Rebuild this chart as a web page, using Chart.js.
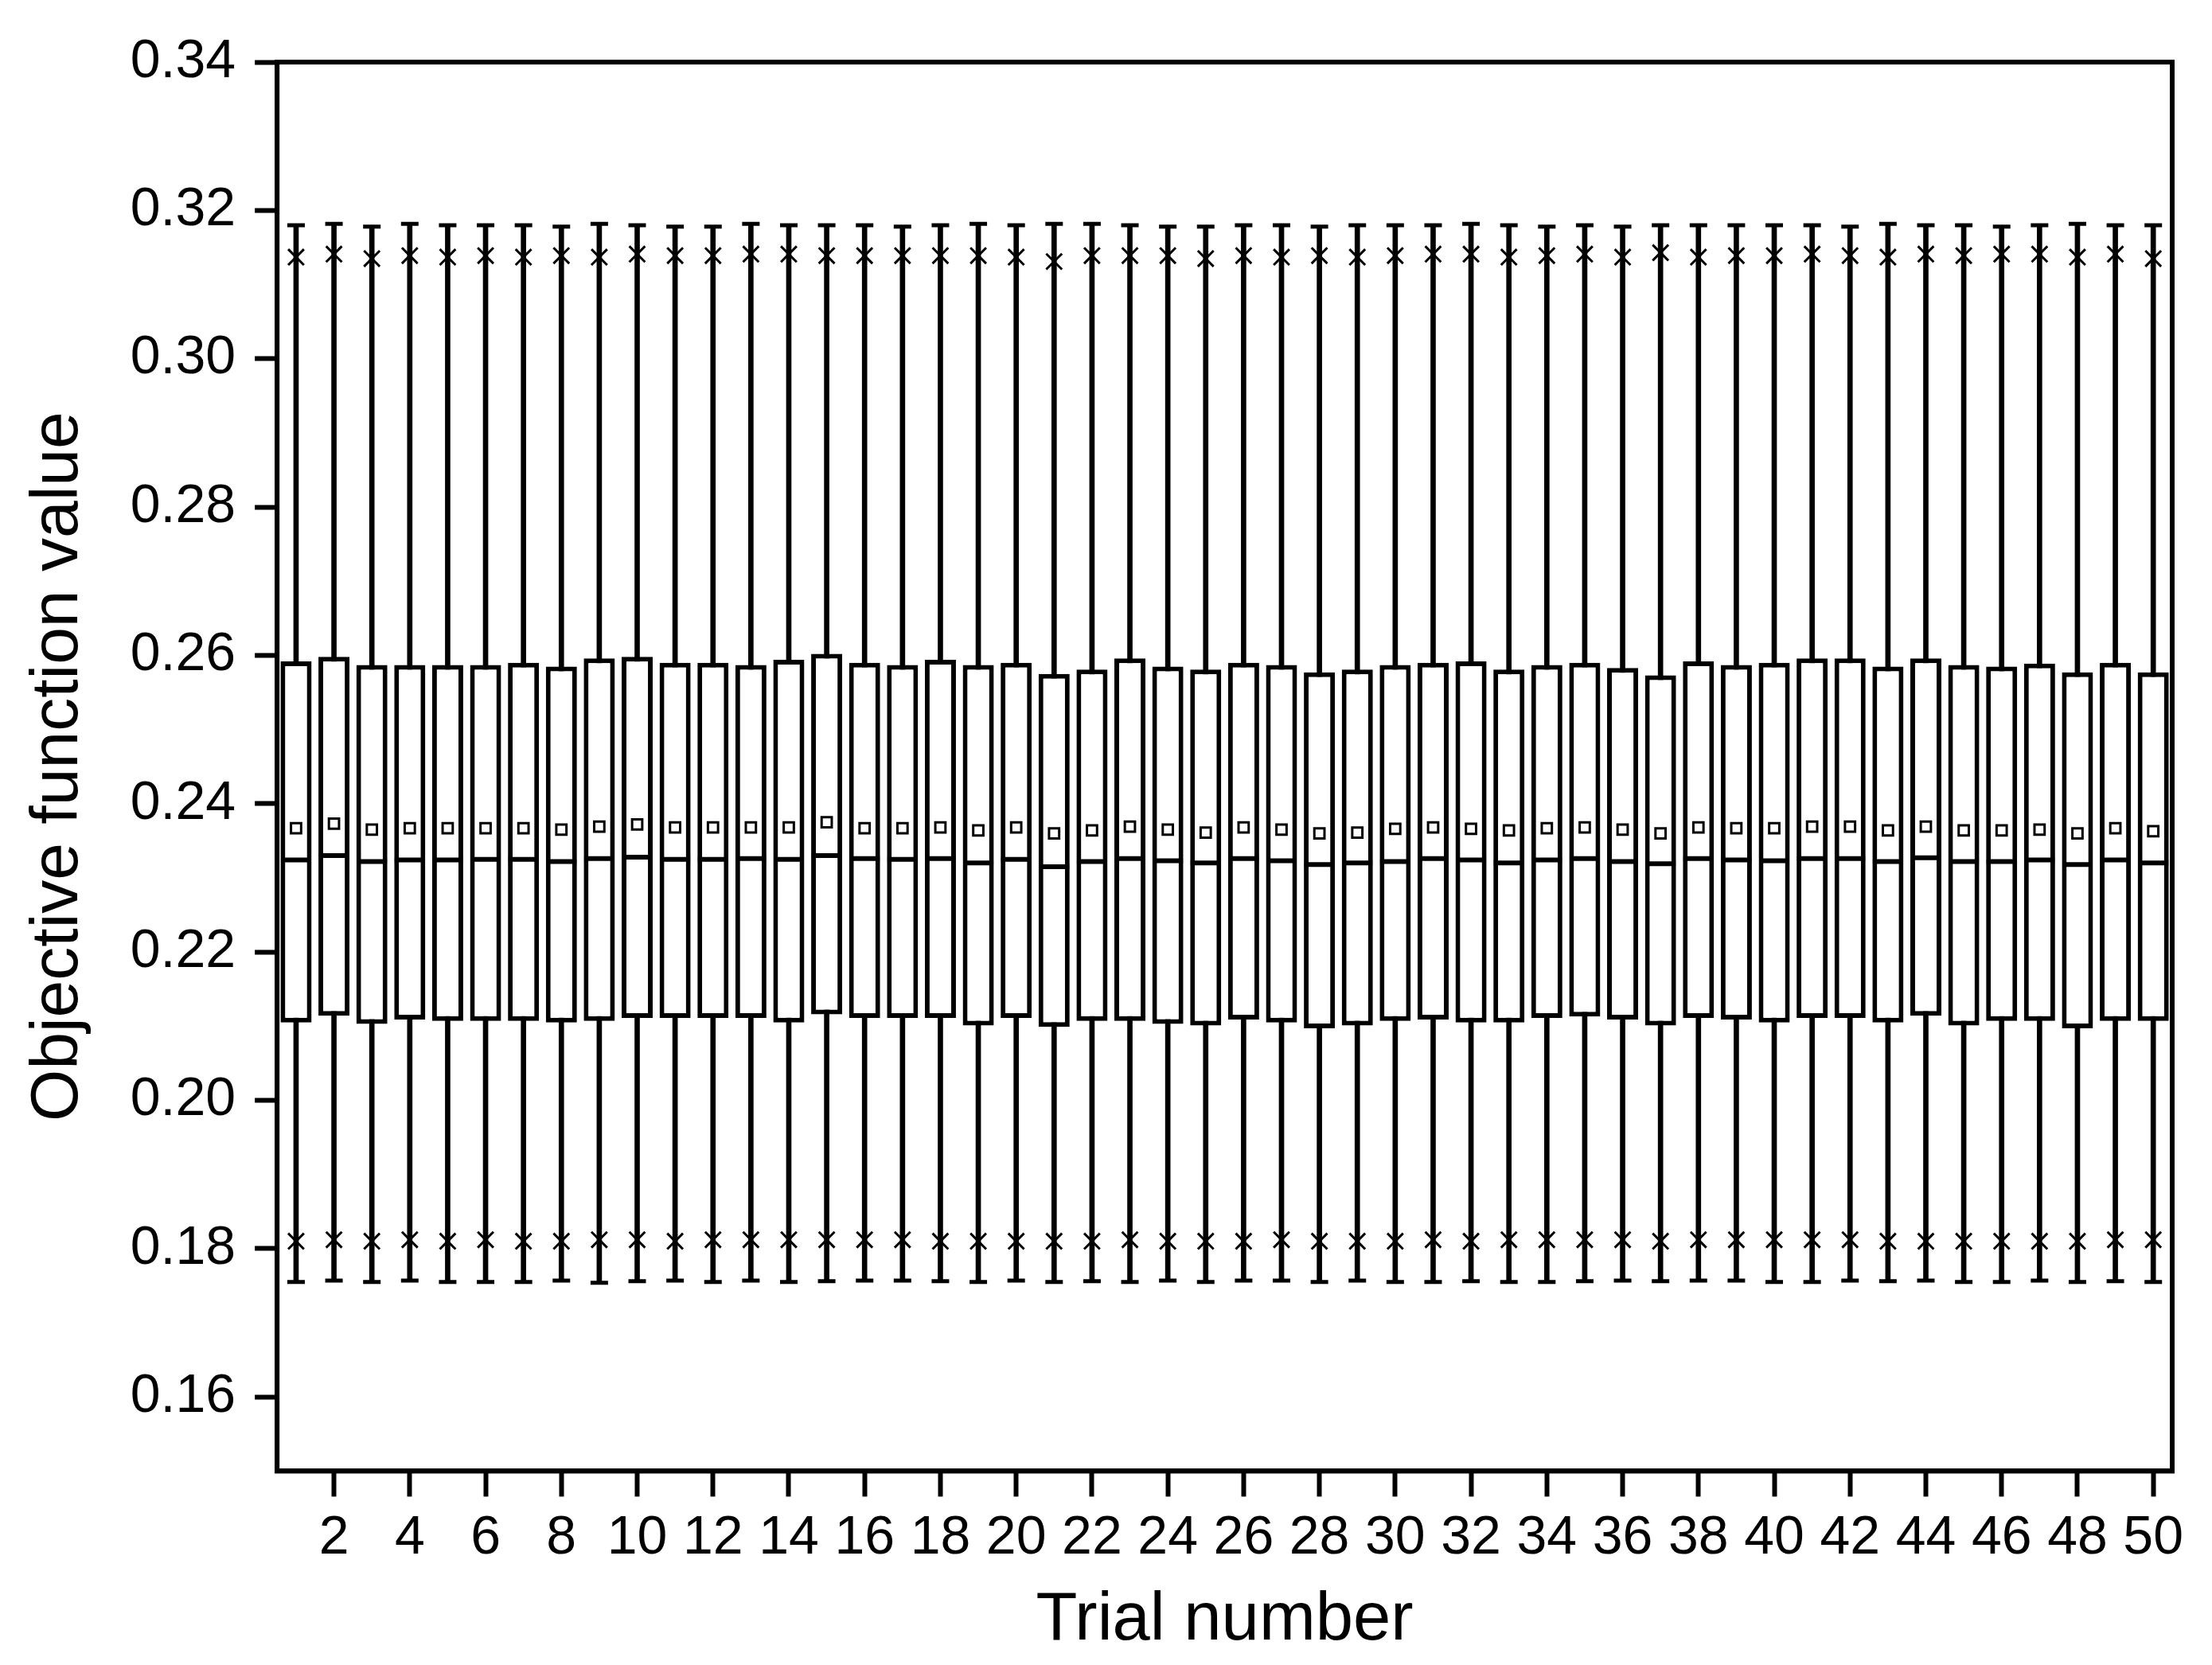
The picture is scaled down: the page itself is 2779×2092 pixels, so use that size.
<!DOCTYPE html>
<html><head><meta charset="utf-8">
<script src="https://cdn.jsdelivr.net/npm/chart.js@4.4.0/dist/chart.umd.min.js"></script>
<style>html,body{margin:0;padding:0;background:#fff}#w{width:2779px;height:2092px}</style>
</head><body><div id="w"><canvas id="c"></canvas></div>
<script>
const trials = Array.from({length:50},(_,i)=>String(i+1));
const q3 = [0.2592,0.2598,0.2587,0.2587,0.2587,0.2587,0.2590,0.2585,0.2596,0.2598,0.2590,0.2590,0.2587,0.2594,0.2602,0.2590,0.2587,0.2594,0.2587,0.2590,0.2575,0.2581,0.2596,0.2585,0.2581,0.2590,0.2587,0.2577,0.2581,0.2587,0.2590,0.2592,0.2581,0.2587,0.2590,0.2583,0.2573,0.2592,0.2587,0.2590,0.2596,0.2596,0.2585,0.2596,0.2587,0.2585,0.2589,0.2577,0.2590,0.2577];
const q1 = [0.2105,0.2114,0.2103,0.2109,0.2107,0.2107,0.2107,0.2105,0.2107,0.2111,0.2111,0.2111,0.2111,0.2105,0.2116,0.2111,0.2111,0.2111,0.2101,0.2111,0.2099,0.2107,0.2107,0.2103,0.2101,0.2109,0.2105,0.2097,0.2101,0.2107,0.2109,0.2105,0.2105,0.2111,0.2113,0.2109,0.2101,0.2111,0.2109,0.2105,0.2111,0.2111,0.2105,0.2114,0.2101,0.2107,0.2107,0.2097,0.2107,0.2107];
const medians = [0.2324,0.2330,0.2322,0.2324,0.2324,0.2325,0.2325,0.2322,0.2326,0.2328,0.2325,0.2325,0.2326,0.2325,0.2330,0.2326,0.2325,0.2326,0.2320,0.2325,0.2315,0.2322,0.2326,0.2323,0.2320,0.2326,0.2323,0.2318,0.2320,0.2322,0.2326,0.2324,0.2320,0.2324,0.2326,0.2322,0.2319,0.2326,0.2324,0.2323,0.2326,0.2326,0.2322,0.2327,0.2322,0.2322,0.2324,0.2318,0.2324,0.2320];
const means = [0.2367,0.2373,0.2365,0.2367,0.2367,0.2367,0.2367,0.2365,0.2369,0.2372,0.2368,0.2368,0.2368,0.2368,0.2375,0.2367,0.2367,0.2368,0.2364,0.2368,0.2360,0.2364,0.2369,0.2365,0.2361,0.2368,0.2365,0.2360,0.2361,0.2366,0.2368,0.2366,0.2364,0.2367,0.2368,0.2365,0.2360,0.2368,0.2367,0.2367,0.2369,0.2369,0.2364,0.2369,0.2364,0.2364,0.2365,0.2360,0.2367,0.2363];
const maxs = [0.3180,0.3182,0.3178,0.3182,0.3180,0.3180,0.3180,0.3178,0.3182,0.3180,0.3178,0.3178,0.3182,0.3180,0.3180,0.3180,0.3178,0.3180,0.3182,0.3180,0.3182,0.3182,0.3180,0.3178,0.3178,0.3180,0.3180,0.3178,0.3180,0.3180,0.3180,0.3182,0.3180,0.3178,0.3180,0.3178,0.3180,0.3180,0.3180,0.3180,0.3180,0.3178,0.3182,0.3180,0.3180,0.3178,0.3180,0.3182,0.3180,0.3180];
const mins = [0.1755,0.1757,0.1755,0.1757,0.1755,0.1755,0.1755,0.1757,0.1754,0.1756,0.1757,0.1755,0.1757,0.1755,0.1756,0.1757,0.1757,0.1756,0.1755,0.1757,0.1755,0.1756,0.1755,0.1757,0.1755,0.1757,0.1757,0.1755,0.1757,0.1755,0.1755,0.1756,0.1755,0.1755,0.1756,0.1757,0.1756,0.1757,0.1757,0.1755,0.1755,0.1757,0.1756,0.1757,0.1755,0.1755,0.1757,0.1755,0.1756,0.1755];
const p99 = [0.3137,0.3141,0.3135,0.3139,0.3137,0.3139,0.3137,0.3139,0.3137,0.3141,0.3139,0.3139,0.3141,0.3141,0.3139,0.3139,0.3139,0.3139,0.3139,0.3137,0.3131,0.3139,0.3139,0.3139,0.3135,0.3139,0.3137,0.3139,0.3137,0.3139,0.3141,0.3141,0.3137,0.3139,0.3141,0.3137,0.3143,0.3137,0.3139,0.3139,0.3141,0.3139,0.3137,0.3141,0.3139,0.3141,0.3141,0.3137,0.3141,0.3135];
const p1 = [0.1810,0.1812,0.1810,0.1812,0.1810,0.1812,0.1810,0.1810,0.1812,0.1812,0.1810,0.1812,0.1812,0.1812,0.1812,0.1812,0.1812,0.1810,0.1810,0.1810,0.1810,0.1810,0.1812,0.1810,0.1810,0.1810,0.1812,0.1810,0.1810,0.1810,0.1812,0.1810,0.1812,0.1812,0.1812,0.1812,0.1810,0.1812,0.1812,0.1812,0.1812,0.1812,0.1810,0.1810,0.1810,0.1810,0.1810,0.1810,0.1812,0.1812];
const yTicks = [0.16,0.18,0.20,0.22,0.24,0.26,0.28,0.30,0.32,0.34];

const frame = {id:'frame',afterDatasetsDraw(ch){const a=ch.chartArea,c=ch.ctx;c.save();c.strokeStyle='#000';c.lineWidth=6;c.strokeRect(a.left,a.top,a.right-a.left,a.bottom-a.top);c.restore();}};
const pts = (data,style,r,bw,order,fill)=>({type:'line',data,showLine:false,pointStyle:style,pointRadius:r,pointHoverRadius:r,pointBorderColor:'#000',pointBackgroundColor:fill||'#000',pointBorderWidth:bw,order});
new Chart(document.getElementById('c'),{
  data:{labels:trials,datasets:[
    {type:'bar',data:trials.map((_,i)=>[mins[i],maxs[i]]),backgroundColor:'#000',barThickness:6,grouped:false,order:10},
    {type:'bar',data:trials.map((_,i)=>[q1[i],q3[i]]),backgroundColor:'#fff',borderColor:'#000',borderWidth:6,borderSkipped:false,barPercentage:0.82,categoryPercentage:1,grouped:false,order:9},
    pts(medians,'line',19,6,3),
    pts(maxs,'line',11,5,3),
    pts(mins,'line',11,5,3),
    pts(p99,'crossRot',14,3,2),
    pts(p1,'crossRot',14,3,2),
    pts(means,'rect',9,3,1,'#fff')
  ]},
  options:{responsive:true,maintainAspectRatio:false,animation:false,
    layout:{padding:{left:19,right:50,top:78,bottom:0}},
    plugins:{legend:{display:false},tooltip:{enabled:false}},
    scales:{
      x:{type:'category',offset:true,
        grid:{drawOnChartArea:false,offset:false,tickLength:32,tickWidth:6,color:'#000',tickColor:c=>(c.index%2===1?'#000':'rgba(0,0,0,0)')},
        border:{color:'#000',width:6},
        ticks:{autoSkip:false,maxRotation:0,padding:12,color:'#000',font:{family:'Liberation Sans',size:68},callback:(v,i)=>(i%2===1?trials[i]:'')},
        title:{display:true,text:'Trial number',color:'#000',font:{family:'Liberation Sans',size:85},padding:{top:0,bottom:4}}},
      y:{min:0.15,max:0.34,
        afterBuildTicks:s=>{s.ticks=yTicks.map(v=>({value:v}));},
        grid:{drawOnChartArea:false,tickLength:28,tickWidth:6,color:'#000'},
        border:{color:'#000',width:6},
        ticks:{padding:24,color:'#000',font:{family:'Liberation Sans',size:68},callback:v=>v.toFixed(2)},
        title:{display:true,text:'Objective function value',color:'#000',font:{family:'Liberation Sans',size:84},padding:{bottom:16}}}
    }},
  plugins:[frame]
});
</script></body></html>
